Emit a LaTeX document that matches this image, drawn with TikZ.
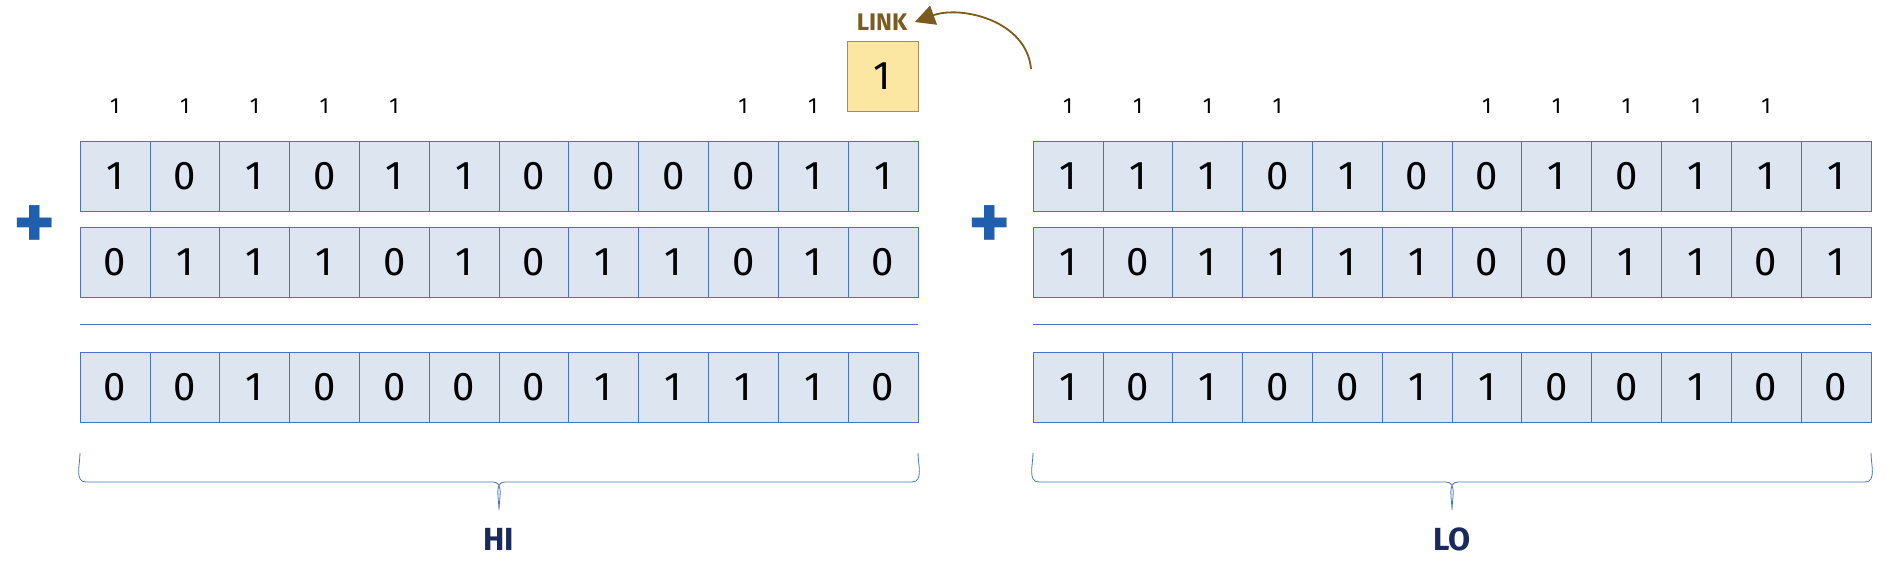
\documentclass[tikz,border=0pt]{standalone}
\usepackage{fontspec}
\setmainfont{Fira Sans}
\usetikzlibrary{positioning,arrows.meta}
\definecolor{cellfill}{HTML}{DDE5F1}
\definecolor{celledge}{HTML}{4A72C4}
\definecolor{plusblue}{HTML}{1F5FAD}
\definecolor{navy}{HTML}{1B2A5C}
\definecolor{linkbrown}{HTML}{7A5C1E}
\definecolor{linkfill}{HTML}{FBE6A2}
\tikzset{
  cell/.style={draw=celledge, fill=cellfill, minimum width=70pt, minimum height=70pt,
    inner sep=0pt},
  bit/.style={font=\fontsize{40}{40}\selectfont\addfontfeature{Numbers=Lining}},
  carry/.style={font=\fontsize{22}{22}\selectfont},
  plus/.style={font=\fontsize{80}{80}\selectfont\bfseries, text=plusblue},
  title/.style={font=\fontsize{32}{32}\selectfont\bfseries, text=navy},
  rule/.style={draw=celledge, line width=0.8pt},
}
\begin{document}
\begin{tikzpicture}[x=1pt,y=-1pt]
  \useasboundingbox (0,0) rectangle (1890,567);
  % rows of bits: block, x start, row y
  \foreach \blk/\xs in {h/80, l/1033}{
    \foreach \r/\yc in {1/176, 2/262, 3/387}{
      \foreach \i in {0,...,11}{
        \node[cell] (\blk\r c\i) at (\xs+35+\i*69.8, \yc) {};
      }
    }
  }
  % high part
  \foreach \d [count=\i from 0] in {1,0,1,0,1,1,0,0,0,0,1,1} \node[bit] at (h1c\i) {\d};
  \foreach \d [count=\i from 0] in {0,1,1,1,0,1,0,1,1,0,1,0} \node[bit] at (h2c\i) {\d};
  \foreach \d [count=\i from 0] in {0,0,1,0,0,0,0,1,1,1,1,0} \node[bit] at (h3c\i) {\d};
  % low part
  \foreach \d [count=\i from 0] in {1,1,1,0,1,0,0,1,0,1,1,1} \node[bit] at (l1c\i) {\d};
  \foreach \d [count=\i from 0] in {1,0,1,1,1,1,0,0,1,1,0,1} \node[bit] at (l2c\i) {\d};
  \foreach \d [count=\i from 0] in {1,0,1,0,0,1,1,0,0,1,0,0} \node[bit] at (l3c\i) {\d};
  % carries
  \foreach \i in {0,1,2,3,4,9,10} \node[carry] at ([yshift=70pt]h1c\i) {1};
  \foreach \i in {0,1,2,3,6,7,8,9,10} \node[carry] at ([yshift=70pt]l1c\i) {1};
  % plus signs
  \node[plus] (hplus) at (35,228) {+};
  \node[plus] (lplus) at (990,228) {+};
  % result rules
  \draw[rule] (h3c0.west |- 0,324) -- (h3c11.east |- 0,324);
  \draw[rule] (l3c0.west |- 0,324) -- (l3c11.east |- 0,324);
  % link bit
  \node[draw=linkbrown!70, fill=linkfill, minimum width=71pt, minimum height=70pt,
    bit] (link) at (882.5,76) {1};
  \node[font=\fontsize{24}{24}\selectfont\bfseries, text=linkbrown] (linklbl) at (882,22) {LINK};
  \coordinate (from) at (1031,69);
  \draw[linkbrown, line width=1.8pt, -{Triangle[length=20pt,width=20pt]}]
    (from) to[out=95,in=20] ([xshift=4pt]linklbl.east);
  % braces
  \foreach \blk/\xa/\xb/\lbl in {h/80/918/HI, l/1033/1871/LO}{
    \pgfmathsetmacro\xm{(\xa+\xb)/2}
    \draw[celledge, line width=0.8pt] (\xa,453) to[out=-90,in=180] (\xa+6,482) -- (\xm-6,482)
      to[out=0,in=90] (\xm,510) (\xm,510) to[out=90,in=180] (\xm+6,482) -- (\xb-6,482)
      to[out=0,in=-90] (\xb,453);
    \node[title] (\blk title) at (\xm,539) {\lbl};
  }
\end{tikzpicture}
\end{document}
